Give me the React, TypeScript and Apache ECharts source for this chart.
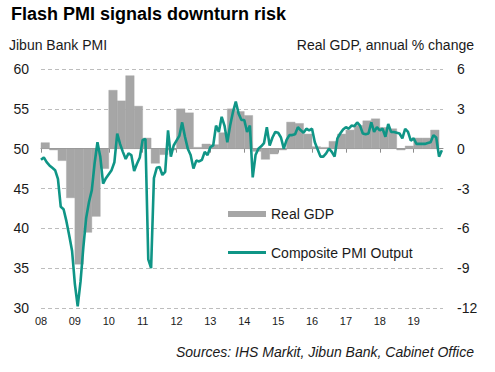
import React, { useEffect, useRef } from "react";
import * as echarts from "echarts";

const FONT = "'Liberation Sans', Arial, Helvetica, sans-serif";

// Composite PMI Output, monthly, Jan 2008 .. Nov 2019
const pmi2008 = [48.6, 48.9, 48.3, 47.9, 47.6, 47.3, 46.2, 42.7, 42.4, 40.9, 39.1, 37.2];
const pmi2009 = [33.0, 30.2, 33.3, 37.6, 41.3, 43.3, 44.8, 48.2, 50.8, 49.0, 45.6, 46.3];
const pmi2010 = [46.8, 47.3, 48.3, 51.9, 50.6, 49.6, 48.7, 49.4, 49.2, 47.2, 48.1, 48.9];
const pmi2011 = [51.1, 51.2, 36.1, 35.0, 46.3, 47.6, 47.7, 46.7, 47.1, 52.3, 49.0, 50.4];
const pmi2012 = [51.0, 51.6, 53.3, 51.5, 50.0, 49.2, 47.5, 48.5, 48.4, 48.6, 49.6, 49.2];
const pmi2013 = [50.2, 50.4, 52.9, 52.1, 54.0, 52.9, 50.8, 52.9, 54.6, 55.9, 54.4, 53.6];
const pmi2014 = [53.6, 52.1, 52.9, 46.4, 49.2, 50.0, 50.3, 50.7, 52.7, 50.4, 51.4, 52.1];
const pmi2015 = [52.0, 51.4, 50.0, 51.1, 51.7, 51.7, 51.8, 52.7, 52.3, 52.0, 52.5, 52.3];
const pmi2016 = [52.5, 50.8, 49.9, 49.0, 49.0, 49.4, 50.0, 49.6, 49.0, 51.3, 51.9, 52.4];
const pmi2017 = [52.7, 52.5, 52.9, 52.8, 53.3, 52.9, 51.9, 51.8, 51.9, 53.3, 52.1, 52.7];
const pmi2018 = [52.3, 52.5, 51.5, 53.1, 52.1, 52.1, 52.0, 51.9, 51.3, 52.5, 52.1, 51.0];
const pmi2019 = [51.3, 50.6, 50.6, 50.6, 50.6, 50.7, 50.8, 51.7, 51.4, 49.0, 49.8];

const pmiComposite = [
  ...pmi2008, ...pmi2009, ...pmi2010, ...pmi2011, ...pmi2012, ...pmi2013,
  ...pmi2014, ...pmi2015, ...pmi2016, ...pmi2017, ...pmi2018, ...pmi2019,
];

// Real GDP, annual % change, quarterly, 2008 Q1 .. 2019 Q3
const gdpQuarterly = [
  0.45, -0.1, -0.9, -3.7,
  -8.7, -6.3, -5.1, -1.5,
  4.4, 3.6, 5.5, 3.2,
  0.8, -1.1, -0.45, -0.1,
  3.0, 2.7, 0.1, 0.35,
  0.3, 1.2, 3.0, 2.8,
  2.5, -0.2, -0.8, -0.4,
  -0.1, 2.0, 1.9, 1.1,
  0.15, 0.1, 0.55, 1.1,
  1.4, 1.75, 2.1, 2.25,
  1.6, 1.5, -0.1, 0.2,
  0.8, 0.8, 1.4,
];

const yearLabels = ["08", "09", "10", "11", "12", "13", "14", "15", "16", "17", "18", "19"];
const leftTicks = { min: 30, max: 60, interval: 5 };
const rightTicks = { min: -12, max: 6, interval: 3 };

const TEAL = "#0f9586";
const GREY = "#a6a6a6";

// legend icons: full 38x7 bounding box, visible part drawn inside
const GDP_ICON = "path://M0,0L38,0M0,7L38,7M0,0.5h38v6h-38z";
const PMI_ICON = "path://M0,0L38,0M0,7L38,7M0,2h38v3h-38z";

export default function App() {
  const ref = useRef<HTMLDivElement>(null);

  useEffect(() => {
    if (!ref.current) return;
    const chart = echarts.init(ref.current, undefined, { renderer: "svg" });
    const yearTickValues = yearLabels.map((_, i) => i * 12);

    chart.setOption({
      animation: false,
      backgroundColor: "#ffffff",
      textStyle: { fontFamily: FONT },
      grid: { left: 41, right: 52, top: 69, bottom: 64, containLabel: false },
      xAxis: {
        type: "value",
        min: 0,
        max: 142.4,
        interval: 12,
        axisLine: { show: true, lineStyle: { color: "#8c8c8c", width: 1 } },
        axisTick: {
          show: true,
          length: 4,
          customValues: yearTickValues,
          lineStyle: { color: "#8c8c8c" },
        },
        axisLabel: {
          customValues: yearTickValues,
          fontSize: 11,
          color: "#1a1a1a",
          fontFamily: FONT,
          margin: 7,
          formatter: (v: number) => yearLabels[Math.round(v / 12)] ?? "",
        },
        splitLine: { show: false },
      },
      yAxis: [
        {
          type: "value",
          ...leftTicks,
          position: "left",
          axisLine: { show: false },
          axisTick: { show: false },
          axisLabel: { fontSize: 14, color: "#1a1a1a", fontFamily: FONT, margin: 12 },
          splitLine: { show: true, lineStyle: { color: "#bdbdbd", type: [4, 3], width: 1 } },
        },
        {
          type: "value",
          ...rightTicks,
          position: "right",
          axisLine: { show: false },
          axisTick: { show: false },
          axisLabel: { fontSize: 14, color: "#1a1a1a", fontFamily: FONT, margin: 14 },
          splitLine: { show: false },
        },
      ],
      legend: {
        orient: "vertical",
        left: 228,
        top: 207,
        padding: 0,
        itemWidth: 38,
        itemHeight: 7,
        itemGap: 24.5,
        selectedMode: false,
        textStyle: { fontSize: 14, color: "#1a1a1a", fontFamily: FONT },
        data: [
          { name: "Real GDP", icon: GDP_ICON, itemStyle: { color: GREY } },
          { name: "Composite PMI Output", icon: PMI_ICON, itemStyle: { color: TEAL } },
        ],
      },
      graphic: [
        {
          type: "text",
          x: 11,
          y: 14,
          style: {
            text: "Flash PMI signals downturn risk",
            font: `bold 18px ${FONT}`,
            fill: "#000000",
            textAlign: "left",
            textVerticalAlign: "middle",
          },
        },
        {
          type: "text",
          x: 9,
          y: 44.5,
          style: {
            text: "Jibun Bank PMI",
            font: `14px ${FONT}`,
            fill: "#1a1a1a",
            textAlign: "left",
            textVerticalAlign: "middle",
          },
        },
        {
          type: "text",
          x: 474,
          y: 44.5,
          style: {
            text: "Real GDP, annual % change",
            font: `14px ${FONT}`,
            fill: "#1a1a1a",
            textAlign: "right",
            textVerticalAlign: "middle",
          },
        },
        {
          type: "text",
          x: 474,
          y: 352,
          style: {
            text: "Sources: IHS Markit, Jibun Bank, Cabinet Office",
            font: `italic 14px ${FONT}`,
            fill: "#1a1a1a",
            textAlign: "right",
            textVerticalAlign: "middle",
          },
        },
      ],
      series: [
        {
          type: "custom",
          name: "Real GDP",
          xAxisIndex: 0,
          yAxisIndex: 1,
          z: 1,
          itemStyle: { color: GREY },
          encode: { x: 0, y: 1 },
          data: gdpQuarterly.map((v, q) => [q * 3, v]),
          renderItem: (_params: any, api: any) => {
            const start = api.value(0);
            const val = api.value(1);
            const a = api.coord([start, 0]);
            const b = api.coord([start + 3, val]);
            return {
              type: "rect",
              shape: {
                x: a[0],
                y: Math.min(a[1], b[1]),
                width: b[0] - a[0],
                height: Math.abs(b[1] - a[1]),
              },
              style: { fill: GREY, stroke: GREY, lineWidth: 0.4 },
            };
          },
        },
        {
          type: "line",
          name: "Composite PMI Output",
          xAxisIndex: 0,
          yAxisIndex: 0,
          z: 3,
          symbol: "none",
          showSymbol: false,
          smooth: false,
          itemStyle: { color: TEAL },
          lineStyle: { color: TEAL, width: 2.6 },
          data: pmiComposite.map((v, m) => [m, v]),
        },
      ],
    });

    return () => {
      chart.dispose();
    };
  }, []);

  return (
    <div
      ref={ref}
      style={{ position: "absolute", left: 0, top: 0, width: 495, height: 372 }}
    />
  );
}
